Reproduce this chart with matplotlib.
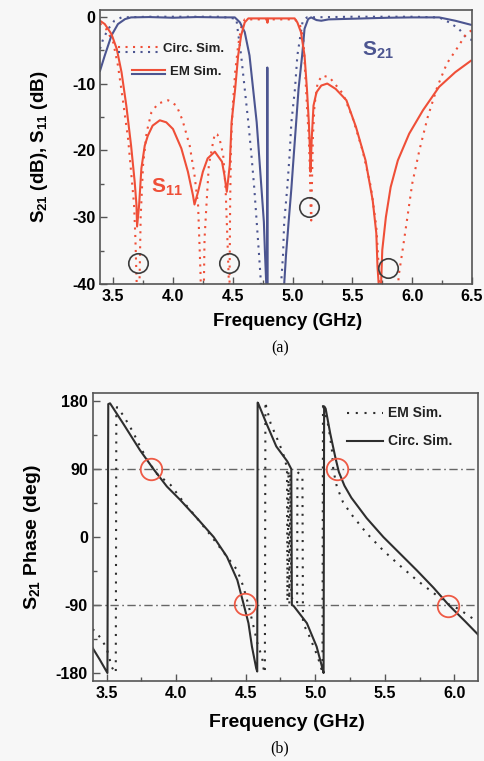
import matplotlib
matplotlib.use("Agg")
from matplotlib import pyplot as plt
from matplotlib.ticker import MultipleLocator, FormatStrFormatter

plt.rcParams['font.family'] = ['Liberation Sans', 'DejaVu Sans']
plt.rcParams['font.weight'] = 'bold'
plt.rcParams['axes.unicode_minus'] = False
plt.rcParams['mathtext.fontset'] = 'custom'
plt.rcParams['mathtext.rm'] = 'Liberation Sans:bold'
plt.rcParams['mathtext.it'] = 'Liberation Sans:bold:italic'
plt.rcParams['mathtext.bf'] = 'Liberation Sans:bold'

# ---- (a) magnitude, frequency in GHz, level in dB ----
s21_em_f = [3.39, 3.43, 3.486, 3.54, 3.60, 3.65, 3.80, 4.00, 4.20, 4.40, 4.517,
            4.56, 4.60, 4.64, 4.67, 4.70, 4.72, 4.74, 4.76, 4.77, 4.78, 4.787,
            4.789, 4.790, 4.930, 4.945, 4.967, 4.99, 5.01, 5.03, 5.05, 5.08,
            5.10, 5.13, 5.155, 5.20, 5.24, 5.30, 5.50, 5.80, 6.00, 6.225, 6.36, 6.49]
s21_em_db = [-8.1, -5.8, -2.8, -1.1, -0.35, -0.1, -0.05, -0.15, -0.05, -0.1, -0.1,
             -0.85, -2.3, -5.8, -10.8, -15.8, -20.7, -25.7, -30.7, -35.7, -40, -48,
             -7.6, -48, -40, -35.7, -30.7, -25.7, -20.7, -15.8, -10.8, -5.8,
             -1.8, -0.35, -0.1, -0.5, -0.6, -0.4, -0.3, -0.15, -0.1, -0.1, -0.6, -1.2]

s21_circ_f = [3.39, 3.417, 3.46, 3.51, 3.57, 3.8, 4.1, 4.4, 4.53, 4.54, 4.57, 4.60,
              4.63, 4.656, 4.68, 4.70, 4.72, 4.735, 4.745, 4.895, 4.905, 4.92, 4.93,
              4.955, 4.975, 4.99, 5.02, 5.04, 5.07, 5.085, 5.12, 5.5, 6.0, 6.225,
              6.31, 6.39, 6.45, 6.5]
s21_circ_db = [-4.8, -3.3, -1.8, -0.6, -0.1, 0, 0, 0, -0.3, -1.8, -5.8, -10.8,
               -15.8, -20.7, -25.7, -30.7, -35.7, -39.7, -46, -46, -39.7, -35.7, -30.7,
               -25.7, -20.7, -15.8, -10.8, -5.8, -2.3, -0.6, -0.1, 0, 0, -0.1,
               -0.85, -1.8, -3.1, -3.5]

s11_em_f = [3.39, 3.43, 3.486, 3.53, 3.57, 3.61, 3.65, 3.68, 3.695, 3.70, 3.717,
            3.736, 3.764, 3.79, 3.83, 3.89, 3.944, 4.0, 4.07, 4.125, 4.167, 4.18,
            4.21, 4.25, 4.29, 4.35, 4.41, 4.43, 4.45, 4.475, 4.49, 4.52, 4.545,
            4.57, 4.60, 4.63, 4.785, 4.79, 4.795, 5.017, 5.04, 5.07, 5.10, 5.12,
            5.136, 5.147, 5.15, 5.16, 5.175, 5.20, 5.24, 5.29, 5.36, 5.45, 5.53,
            5.61, 5.67, 5.70, 5.71, 5.72, 5.73, 5.74, 5.75, 5.78, 5.82, 5.88,
            5.975, 6.09, 6.225, 6.36, 6.49]
s11_em_db = [-0.6, -1.1, -2.6, -4.8, -8.3, -13.3, -19.3, -24.7, -28.2, -31.4, -28.2,
             -22.7, -19.3, -17.8, -16.3, -15.5, -15.8, -16.8, -19.7, -23.2, -26.7, -28.1,
             -26.2, -23.2, -21.2, -20.2, -21.7, -23.7, -26.2, -22.2, -15.8, -10.8, -5.8,
             -2.8, -0.85, -0.25, -0.25, -0.9, -0.25, -0.25, -0.85, -2.3, -5.8, -10.8,
             -15.8, -20.7, -23.2, -18.3, -13.3, -11.3, -10.3, -10.0, -10.8, -12.5, -16.5,
             -21.5, -27.5, -32.4, -37.4, -40, -46, -39.9, -34.9, -30, -25.5, -21.5,
             -17.5, -14, -10.5, -8.3, -6.6]

s11_circ_f = [3.39, 3.44, 3.50, 3.54, 3.58, 3.625, 3.65, 3.675, 3.686, 3.694, 3.70,
              3.71, 3.718, 3.722, 3.73, 3.75, 3.78, 3.82, 3.875, 3.96, 4.03, 4.08,
              4.14, 4.18, 4.21, 4.22, 4.23, 4.24, 4.255, 4.26, 4.264, 4.28, 4.30,
              4.33, 4.35, 4.37, 4.39, 4.42, 4.44, 4.45, 4.46, 4.467, 4.47, 4.473,
              4.478, 4.485, 4.50, 4.52, 4.545, 4.57, 4.60, 5.02, 5.06, 5.09, 5.105,
              5.12, 5.136, 5.145, 5.15, 5.156, 5.162, 5.17, 5.183, 5.21, 5.25, 5.31,
              5.42, 5.50, 5.585, 5.655, 5.70, 5.72, 5.73, 5.875, 5.886, 5.92, 5.96,
              6.00, 6.06, 6.13, 6.21, 6.29, 6.38, 6.45, 6.50]
s11_circ_db = [-1.0, -1.8, -3.8, -7.3, -12.3, -18.3, -23.2, -28.2, -33.2, -38.2, -42,
               -46, -42, -38.2, -30, -22.2, -17.3, -14.3, -13.0, -12.5, -13.3, -15.5,
               -19.3, -23.7, -28.2, -33.2, -38.2, -46, -46, -38.2, -33.2, -28.2, -22.2,
               -19.3, -17.5, -17.6, -18.3, -20.7, -25.7, -30.7, -35.7, -39.7, -46, -40,
               -28, -19.3, -13.3, -8.3, -4.3, -1.6, -0.4, -0.4, -1.1, -3.3, -8.3,
               -13.3, -18.3, -23.2, -28.2, -30.5, -25, -18, -13.3, -9.8, -8.8, -9.1,
               -11.5, -15, -20, -25.5, -31.4, -37.4, -46, -46, -38.9, -34.9, -30,
               -25, -20, -15, -10.5, -7, -4.6, -2.6, -2.0]

mark_a_f = [3.71, 4.47, 5.14, 5.795]
mark_a_db = [-36.8, -36.8, -28.5, -37.6]

# ---- (b) phase, frequency in GHz, phase in degrees ----
ph_circ_f = [3.40, 3.45, 3.506, 3.512, 3.525, 3.62, 3.74, 3.837, 3.933, 4.03, 4.15,
             4.27, 4.365, 4.44, 4.484, 4.52, 4.545, 4.576, 4.583, 4.586, 4.59, 4.65,
             4.72, 4.80, 4.828, 4.832, 4.844, 4.94, 5.01, 5.055, 5.06, 5.064, 5.075,
             5.108, 5.144, 5.17, 5.21, 5.26, 5.37, 5.49, 5.61, 5.73, 5.85, 5.96,
             6.08, 6.17]
ph_circ_deg = [-147, -162, -180, 176, 177, 150, 115, 90, 67, 49, 25,
               0, -26, -57, -88, -114, -145, -174, -178, 178, 177, 150,
               120, 100, 90, -90, -91, -114, -145, -176, -180, 173, 170,
               137, 106, 86, 68, 52, 25, 0, -22, -44, -67, -90,
               -112, -129]

ph_em_f = [3.40, 3.43, 3.465, 3.50, 3.537, 3.555, 3.566, 3.570, 3.575, 3.62, 3.69,
           3.74, 3.80, 3.86, 3.96, 4.05, 4.15, 4.245, 4.34, 4.44, 4.48, 4.52,
           4.556, 4.59, 4.617, 4.63, 4.638, 4.642, 4.645, 4.68, 4.72, 4.76, 4.784,
           4.797, 4.800, 4.808, 4.814, 4.822, 4.828, 4.87, 4.872, 4.908, 4.912, 4.95,
           5.00, 5.035, 5.052, 5.056, 5.06, 5.096, 5.12, 5.13, 5.155, 5.20, 5.26,
           5.37, 5.49, 5.61, 5.73, 5.85, 5.96, 6.04, 6.10, 6.17]
ph_em_deg = [-122, -127, -136, -147, -172, -178, -180, 168, 172, 161, 139,
             120, 100, 84, 69, 47, 25, 3, -20, -44, -64, -90,
             -118, -145, -158, -176, -180, 179, 175, 150, 133, 115, 102,
             90, -85, 88, -88, 84, -80, -88, 86, 80, -114, -128,
             -150, -168, -180, 178, 172, 146, 115, 89, 67, 46, 30,
             5, -18, -38, -57, -74, -89, -96, -104, -112]

mark_b_f = [3.82, 4.495, 5.156, 5.955]
mark_b_deg = [90, -89, 90, -91]

red = '#ef4f38'
blue = '#4c5590'
dark = '#2e2e2e'
bg = '#f7f7f7'
dots_a = (0, (1, 2.6))
dots_b = (0, (1, 3.2))

fig = plt.figure(figsize=(4.84, 7.61), dpi=100, facecolor=bg)

# ===== panel (a) =====
ax1 = fig.add_axes([0.2066, 0.6268, 0.7686, 0.36])
ax1.set_facecolor(bg)
ax1.plot(s21_circ_f, s21_circ_db, color=blue, lw=1.5, linestyle=dots_a)
ax1.plot(s11_circ_f, s11_circ_db, color=red, lw=1.5, linestyle=dots_a)
ax1.plot(s21_em_f, s21_em_db, color=blue, lw=1.5)
ax1.plot(s11_em_f, s11_em_db, color=red, lw=1.5)
ax1.plot(mark_a_f, mark_a_db, 'o', ms=14, mfc='none', mec='#3c3c3c', mew=1.2)
ax1.set_xlim(3.39, 6.5)
ax1.set_ylim(-40, 1.0)
ax1.xaxis.set_major_locator(MultipleLocator(0.5))
ax1.xaxis.set_minor_locator(MultipleLocator(0.25))
ax1.yaxis.set_major_locator(MultipleLocator(10))
ax1.yaxis.set_minor_locator(MultipleLocator(5))
ax1.xaxis.set_major_formatter(FormatStrFormatter('%.1f'))
ax1.set_xlabel('Frequency (GHz)', fontsize=13.5, fontweight='bold')
ax1.set_ylabel(r'S$_{21}$ (dB), S$_{11}$ (dB)', fontsize=13.5, fontweight='bold')
ax1.xaxis.set_label_coords(0.503, -0.105)
ax1.yaxis.set_label_coords(-0.135, 0.5)
ax1.text(5.71, -5.1, r'S$_{21}$', color=blue, fontsize=15, fontweight='bold',
         ha='center', va='center')
ax1.text(3.95, -25.5, r'S$_{11}$', color=red, fontsize=15, fontweight='bold',
         ha='center', va='center')
# legend of panel (a)
ax1.plot([0.048, 0.161], [0.865, 0.865], transform=ax1.transAxes, color=red,
         lw=1.5, linestyle=dots_a)
ax1.plot([0.048, 0.161], [0.847, 0.847], transform=ax1.transAxes, color=blue,
         lw=1.5, linestyle=dots_a)
ax1.plot([0.086, 0.175], [0.781, 0.781], transform=ax1.transAxes, color=red, lw=1.5)
ax1.plot([0.086, 0.175], [0.766, 0.766], transform=ax1.transAxes, color=blue, lw=1.5)
ax1.text(0.17, 0.858, 'Circ. Sim.', transform=ax1.transAxes, fontsize=9.5,
         fontweight='bold', va='center', color='#222222')
ax1.text(0.187, 0.774, 'EM Sim.', transform=ax1.transAxes, fontsize=9.5,
         fontweight='bold', va='center', color='#222222')

# ===== panel (b) =====
ax2 = fig.add_axes([0.1915, 0.1051, 0.796, 0.3784])
ax2.set_facecolor(bg)
ax2.axhline(90, color='#666666', lw=1.0, linestyle=(0, (6, 2.5, 1.2, 2.5)))
ax2.axhline(-90, color='#666666', lw=1.0, linestyle=(0, (6, 2.5, 1.2, 2.5)))
ax2.plot(ph_em_f, ph_em_deg, color=dark, lw=1.5, linestyle=dots_b)
ax2.plot(ph_circ_f, ph_circ_deg, color=dark, lw=1.5)
ax2.plot(mark_b_f, mark_b_deg, 'o', ms=15.5, mfc='none', mec='#ee5a45', mew=1.3)
ax2.set_xlim(3.4, 6.17)
ax2.set_ylim(-190.6, 190.6)
ax2.xaxis.set_major_locator(MultipleLocator(0.5))
ax2.xaxis.set_minor_locator(MultipleLocator(0.25))
ax2.yaxis.set_major_locator(MultipleLocator(90))
ax2.yaxis.set_minor_locator(MultipleLocator(45))
ax2.xaxis.set_major_formatter(FormatStrFormatter('%.1f'))
ax2.set_xlabel('Frequency (GHz)', fontsize=14, fontweight='bold')
ax2.set_ylabel(r'S$_{21}$ Phase (deg)', fontsize=14, fontweight='bold')
ax2.xaxis.set_label_coords(0.505, -0.115)
ax2.yaxis.set_label_coords(-0.13, 0.5)
ax2.plot([0.66, 0.754], [0.93, 0.93], transform=ax2.transAxes, color=dark,
         lw=1.5, linestyle=dots_b)
ax2.plot([0.66, 0.754], [0.834, 0.834], transform=ax2.transAxes, color=dark, lw=1.5)
ax2.text(0.767, 0.93, 'EM Sim.', transform=ax2.transAxes, fontsize=10,
         fontweight='bold', va='center', color='#222222')
ax2.text(0.767, 0.834, 'Circ. Sim.', transform=ax2.transAxes, fontsize=10,
         fontweight='bold', va='center', color='#222222')

for ax in (ax1, ax2):
    for sp in ax.spines.values():
        sp.set_color('#555555')
        sp.set_linewidth(1.2)
    ax.tick_params(which='both', direction='in', colors='#555555',
                   labelcolor='black', labelsize=11.5, width=1.0)
    ax.tick_params(which='major', length=5)
    ax.tick_params(which='minor', length=3)
    for lab in ax.get_xticklabels() + ax.get_yticklabels():
        lab.set_fontweight('bold')

fig.text(0.578, 1 - 348 / 761, '(a)', family='Liberation Serif', fontsize=11.5,
         ha='center', va='center', fontweight='normal')
fig.text(0.578, 1 - 748 / 761, '(b)', family='Liberation Serif', fontsize=11.5,
         ha='center', va='center', fontweight='normal')

fig.savefig('out.png', dpi=100, facecolor=bg)
